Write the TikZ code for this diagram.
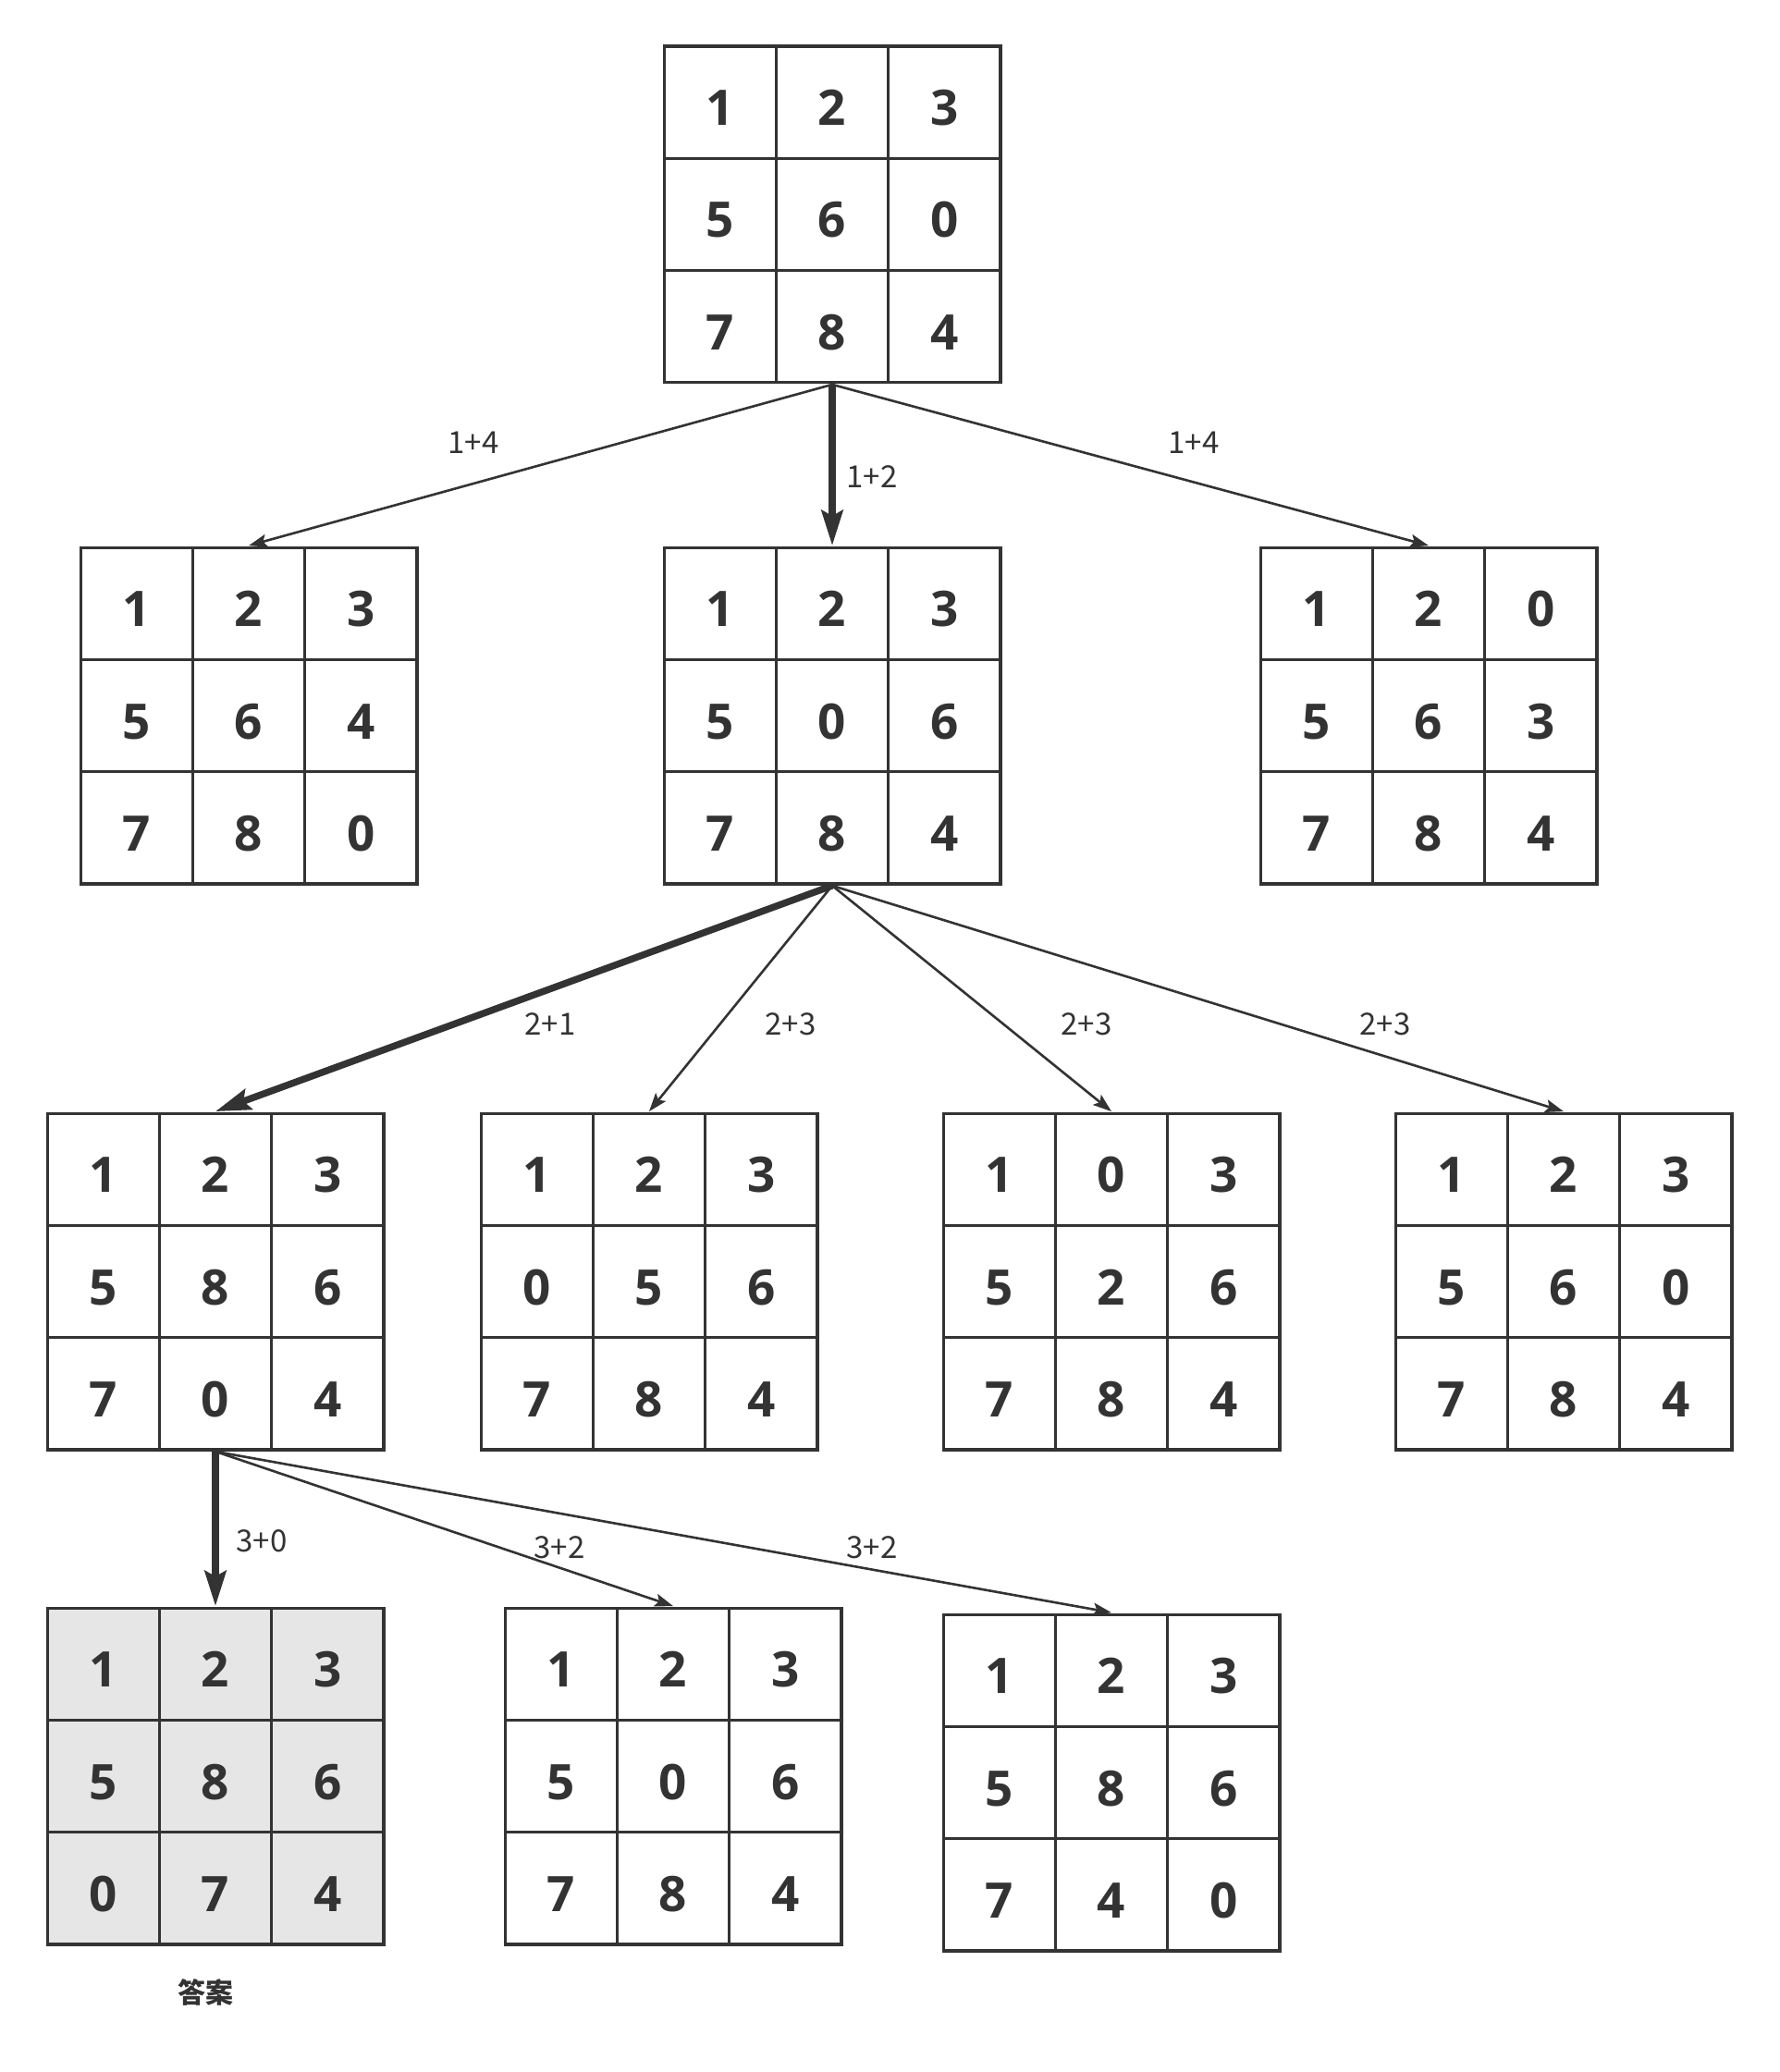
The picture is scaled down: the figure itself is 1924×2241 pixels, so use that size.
\documentclass[tikz,border=0pt]{standalone}
\usepackage{fontspec}
\usepackage{xcolor}
\usepackage{tikz}
\usetikzlibrary{arrows.meta,matrix}

\newfontfamily\numfont{Open Sans}
\newfontfamily\cjk{Noto Sans CJK SC}
\definecolor{ink}{HTML}{333333}
\definecolor{shade}{HTML}{E6E6E6}

\begin{document}
\begin{tikzpicture}[
  x=0.5pt, y=-0.5pt,
  >=Stealth,
  cell/.style={draw=ink, line width=1.7pt, minimum size=60.6pt, inner sep=0pt,
               text height=25pt, text depth=0pt, anchor=center, text=ink,
               font={\numfont\bfseries\fontsize{26.5pt}{30pt}\selectfont}},
  board/.style={matrix of nodes, inner sep=0pt, column sep=-1.7pt, row sep=-1.7pt,
                nodes={cell}},
  move/.style={-{Stealth[length=10pt, width=7pt, inset=2pt]}, line width=1.3pt, draw=ink},
  best/.style={-{Stealth[length=19pt, width=11.5pt, inset=3pt]}, line width=3.7pt, draw=ink},
  elabel/.style={text=ink, font={\cjk\fontsize{16.5pt}{19pt}\selectfont}},
  tag/.style={text=ink, font={\cjk\bfseries\fontsize{15pt}{18pt}\selectfont}},
]
\useasboundingbox (0,0) rectangle (1924,2241);

% Start state
\matrix[board] (s0) at (900,232) {1 & 2 & 3\\ 5 & 6 & 0\\ 7 & 8 & 4\\};

% Depth 1
\matrix[board] (s1a) at (269,774)  {1 & 2 & 3\\ 5 & 6 & 4\\ 7 & 8 & 0\\};
\matrix[board] (s1b) at (900,774)  {1 & 2 & 3\\ 5 & 0 & 6\\ 7 & 8 & 4\\};
\matrix[board] (s1c) at (1545,774) {1 & 2 & 0\\ 5 & 6 & 3\\ 7 & 8 & 4\\};

% Depth 2
\matrix[board] (s2a) at (233,1386)  {1 & 2 & 3\\ 5 & 8 & 6\\ 7 & 0 & 4\\};
\matrix[board] (s2b) at (702,1386)  {1 & 2 & 3\\ 0 & 5 & 6\\ 7 & 8 & 4\\};
\matrix[board] (s2c) at (1202,1386) {1 & 0 & 3\\ 5 & 2 & 6\\ 7 & 8 & 4\\};
\matrix[board] (s2d) at (1691,1386) {1 & 2 & 3\\ 5 & 6 & 0\\ 7 & 8 & 4\\};

% Depth 3 (goal shaded)
\matrix[board, nodes={fill=shade}] (s3a) at (233,1921) {1 & 2 & 3\\ 5 & 8 & 6\\ 0 & 7 & 4\\};
\matrix[board] (s3b) at (728,1921)  {1 & 2 & 3\\ 5 & 0 & 6\\ 7 & 8 & 4\\};
\matrix[board] (s3c) at (1202,1928) {1 & 2 & 3\\ 5 & 8 & 6\\ 7 & 4 & 0\\};
\node[tag] (ans) at (222,2155) {答案};

% Moves, chosen path thick
\draw[move] (s0.south) -- (s1a.north);
\draw[best] (s0.south) -- (s1b.north);
\draw[move] (s0.south) -- (s1c.north);
\draw[best] (s1b.south) -- (s2a.north);
\foreach \t in {s2b,s2c,s2d} {\draw[move] (s1b.south) -- (\t.north);}
\draw[best] (s2a.south) -- (s3a.north);
\foreach \t in {s3b,s3c} {\draw[move] (s2a.south) -- (\t.north);}

% f = g + h labels
\node[elabel] (f1a) at (512,479)  {1+4};
\node[elabel] (f1b) at (943,516)  {1+2};
\node[elabel] (f1c) at (1291,479) {1+4};
\node[elabel] (f2a) at (595,1108) {2+1};
\node[elabel] (f2b) at (855,1108) {2+3};
\node[elabel] (f2c) at (1175,1108) {2+3};
\node[elabel] (f2d) at (1498,1108) {2+3};
\node[elabel] (f3a) at (283,1667) {3+0};
\node[elabel] (f3b) at (605,1674) {3+2};
\node[elabel] (f3c) at (943,1674) {3+2};

\end{tikzpicture}
\end{document}
